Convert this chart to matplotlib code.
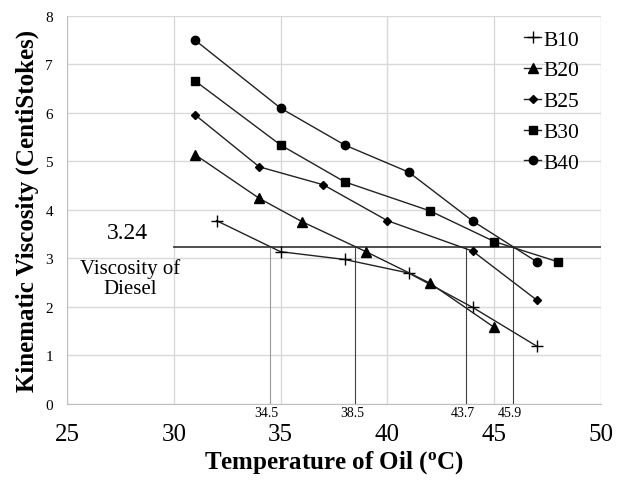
import matplotlib
matplotlib.use("Agg")
import matplotlib.pyplot as plt

# Datos
temp_b10 = [32, 35, 38, 41, 44, 47]
visc_b10 = [3.78, 3.14, 2.98, 2.70, 1.99, 1.19]

temp_b20 = [31, 34, 36, 39, 42, 45]
visc_b20 = [5.14, 4.24, 3.76, 3.14, 2.49, 1.58]

temp_b25 = [31, 34, 37, 40, 44, 47]
visc_b25 = [5.96, 4.89, 4.52, 3.78, 3.15, 2.14]

temp_b30 = [31, 35, 38, 42, 45, 48]
visc_b30 = [6.66, 5.34, 4.58, 3.98, 3.35, 2.93]

temp_b40 = [31, 35, 38, 41, 44, 47]
visc_b40 = [7.5, 6.10, 5.34, 4.78, 3.77, 2.93]

visc_diesel = 3.24
cortes = [34.5, 38.5, 43.7, 45.9]
cortes_txt = ["34.5", "38.5", "43.7", "45.9"]

plt.rcParams["font.family"] = ["Liberation Serif", "DejaVu Serif"]
plt.rcParams["mathtext.fontset"] = "custom"
plt.rcParams["mathtext.rm"] = "Liberation Serif:bold"

fig = plt.figure(figsize=(6.29, 4.81), dpi=100)
ax = fig.add_axes([0.1065, 0.158, 0.849, 0.8067])

# Series
series = [
    (temp_b10, visc_b10, "+", 9, "B10"),
    (temp_b20, visc_b20, "^", 6.5, "B20"),
    (temp_b25, visc_b25, "D", 4.5, "B25"),
    (temp_b30, visc_b30, "s", 5.5, "B30"),
    (temp_b40, visc_b40, "o", 6, "B40"),
]
for t, v, m, ms, lab in series:
    ax.plot(t, v, color="#222222", lw=1.0, marker=m, ms=ms,
            mfc="black", mec="black", mew=1.0, label=lab)

# Linea de viscosidad del diesel
ax.plot([30, 50], [visc_diesel, visc_diesel], color="#404040", lw=1.3, zorder=1)

# Lineas verticales de corte
col_cortes = ["#999999", "#404040", "#404040", "#404040"]
for x, txt, c in zip(cortes, cortes_txt, col_cortes):
    ax.plot([x, x], [0, visc_diesel], color=c, lw=0.8, zorder=1)
    ax.text(x - 0.15, -0.17, txt, ha="center", va="center", fontsize=10)

ax.text(27.85, 3.53, "3.24", ha="center", va="center", fontsize=17)
ax.text(27.95, 2.6, "Viscosity of\nDiesel", ha="center", va="center",
        fontsize=15, linespacing=1.05)

ax.set_xlim(25, 50)
ax.set_ylim(0, 8)
ax.set_xticks([25, 30, 35, 40, 45, 50])
ax.set_yticks(range(0, 9))
ax.tick_params(axis="x", length=0, pad=14, labelsize=18)
ax.tick_params(axis="y", length=0, pad=10, labelsize=11)
ax.grid(True, color="#d9d9d9", lw=1.0)
ax.set_axisbelow(True)
for s in ["top", "right"]:
    ax.spines[s].set_visible(False)
for s in ["left", "bottom"]:
    ax.spines[s].set_color("#bfbfbf")

ax.set_xlabel(r"Temperature of Oil ($\mathregular{^o}$C)", fontsize=18,
              fontweight="bold", labelpad=2)
ax.set_ylabel("Kinematic Viscosity (CentiStokes)", fontsize=18,
              fontweight="bold", labelpad=5)

ax.legend(loc="upper left", bbox_to_anchor=(0.856, 0.965), frameon=False,
          fontsize=15.5, handlelength=0.8, handletextpad=0.1, labelspacing=0.5,
          borderpad=0, borderaxespad=0)

fig.savefig("out.png", dpi=100)
